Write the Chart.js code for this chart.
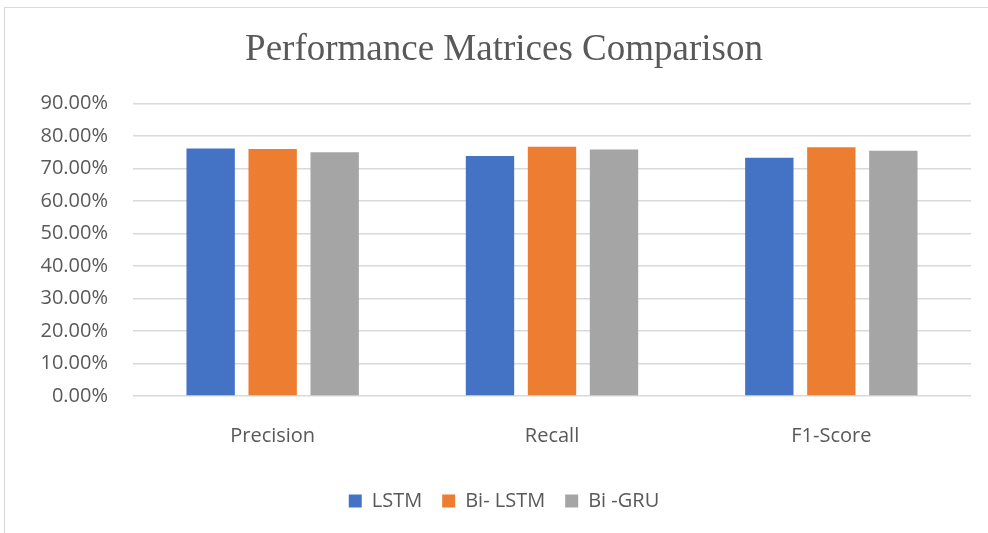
<!DOCTYPE html>
<html>
<head>
<meta charset="utf-8">
<script src="https://cdn.jsdelivr.net/npm/chart.js@4"></script>
<style>
  html, body { margin: 0; padding: 0; background: #fff; }
  #wrap { position: relative; width: 988px; height: 533px; overflow: hidden; }
  #frame {
    position: absolute; left: 4px; top: 7px; width: 1000px; height: 600px;
    border-left: 1px solid #d9d9d9; border-top: 1px solid #d9d9d9;
  }
  #chart { position: absolute; left: 0; top: 0; }
</style>
</head>
<body>
<div id="wrap">
  <div id="frame"></div>
  <canvas id="chart" width="988" height="533"></canvas>
</div>
<script>
// chart values (percent)
const categories = ['Precision', 'Recall', 'F1-Score'];
const lstm = [76.1, 73.8, 73.3];
const biLstm = [76.0, 76.7, 76.5];
const biGru = [74.95, 75.8, 75.4];

const textColor = '#595959';
const gridColor = '#d9d9d9';
const labelFont = { family: '"Open Sans", sans-serif', size: 20 };

(function () {
  const ctx = document.getElementById('chart').getContext('2d');
  new Chart(ctx, {
    type: 'bar',
    data: {
      labels: categories,
      datasets: [
        { label: 'LSTM', data: lstm, backgroundColor: '#4472c4', yAxisID: 'y' },
        { label: 'Bi- LSTM', data: biLstm, backgroundColor: '#ed7d31', yAxisID: 'y' },
        { label: 'Bi -GRU', data: biGru, backgroundColor: '#a5a5a5', yAxisID: 'y' },
      ],
    },
    options: {
      responsive: false,
      animation: false,
      categoryPercentage: 0.666,
      barPercentage: 0.78,
      layout: { padding: { left: 20, right: 0, top: 0, bottom: 12 } },
      plugins: {
        title: {
          display: true,
          text: 'Performance Matrices Comparison',
          color: textColor,
          font: { family: '"Liberation Serif", "Times New Roman", serif', size: 37, weight: 'normal', lineHeight: 1.2 },
          padding: { top: 28, bottom: 31 },
        },
        legend: {
          position: 'bottom',
          labels: {
            color: textColor,
            font: labelFont,
            boxWidth: 13,
            boxHeight: 13,
            padding: 20,
          },
        },
        tooltip: { enabled: false },
      },
      scales: {
        x: {
          grid: { display: false },
          border: { display: false },
          ticks: {
            color: textColor,
            font: labelFont,
            padding: 20,
          },
          afterFit: (scale) => { scale.height += 3; },
        },
        y: {
          min: 0,
          max: 90,
          grid: { color: gridColor, lineWidth: 1.5, drawTicks: false },
          border: { display: false },
          ticks: {
            stepSize: 10,
            color: textColor,
            font: labelFont,
            padding: 25,
            callback: (v) => v.toFixed(2) + '%',
          },
          afterFit: (scale) => { scale.width = 113; },
        },
        yRight: {
          position: 'right',
          grid: { display: false },
          border: { display: false },
          ticks: { display: false },
          afterFit: (scale) => { scale.width = 17; },
        },
      },
    },
  });
})();
</script>
</body>
</html>
